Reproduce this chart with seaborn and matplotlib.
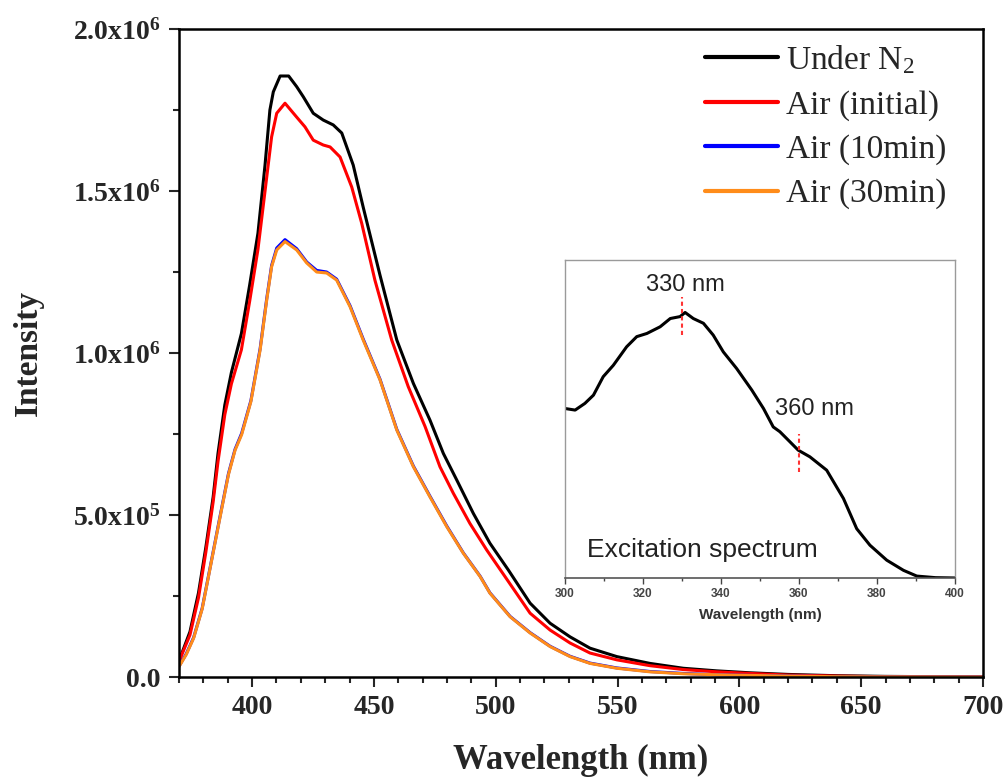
import numpy as np
import pandas as pd
import matplotlib.pyplot as plt
import seaborn as sns
from matplotlib.ticker import MultipleLocator, FuncFormatter

# ── Data (intensity in units of 1e6) ───────────────────────────────────────
wl_n2 = [370, 374.5, 378, 381, 384, 386, 388.8, 391.5, 395.6, 399, 402.4, 405.3, 407.3,
         408.7, 411.5, 415, 418.3, 421, 425.1, 429.2, 433.3, 436.8, 441.5, 445.6, 452.5,
         459.4, 466.2, 473, 478.5, 484, 490.8, 497.6, 505.2, 514.1, 522.3, 530.5, 538.7,
         549.7, 563.3, 577, 590.7, 604.4, 620, 640, 660, 700]
int_n2 = [0.05, 0.14, 0.26, 0.40, 0.555, 0.69, 0.84, 0.94, 1.06, 1.21, 1.37, 1.58, 1.75,
          1.806, 1.855, 1.855, 1.822, 1.791, 1.74, 1.719, 1.704, 1.679, 1.58, 1.45, 1.24,
          1.04, 0.906, 0.793, 0.69, 0.608, 0.505, 0.413, 0.33, 0.228, 0.166, 0.124, 0.089,
          0.063, 0.042, 0.027, 0.019, 0.013, 0.008, 0.004, 0.002, 0.0]

wl_air0 = [370, 374.5, 378, 381, 384, 386, 388.8, 391.5, 395.6, 399, 402.4, 406, 408,
           410.1, 413.5, 418.3, 421.7, 425.1, 429.2, 432, 436.1, 440.9, 445, 450.4, 457.3,
           464.1, 471, 477.1, 482.6, 489.4, 496.3, 503.8, 514.1, 522.3, 530.5, 538.7, 549.7,
           563.3, 577, 590.7, 604.4, 620, 640, 660, 700]
int_air0 = [0.048, 0.13, 0.245, 0.385, 0.54, 0.665, 0.81, 0.905, 1.01, 1.16, 1.32, 1.543, 1.667,
            1.74, 1.771, 1.728, 1.698, 1.657, 1.642, 1.636, 1.605, 1.512, 1.40, 1.225, 1.04,
            0.896, 0.773, 0.649, 0.567, 0.474, 0.392, 0.31, 0.197, 0.145, 0.105, 0.074, 0.053,
            0.035, 0.023, 0.016, 0.011, 0.006, 0.003, 0.001, 0.0]

wl_air10 = [370, 373, 376, 379.5, 383, 386.5, 390.3, 393, 395.7, 399.5, 403.3, 406, 408,
            410.1, 413.5, 418.3, 422.4, 426.5, 430.6, 434.7, 440.2, 445.6, 452.5, 459.4,
            466.2, 473, 479.9, 486.7, 493.6, 497.6, 505.9, 514.1, 522.3, 530.5, 538.7, 549.7,
            563.3, 577, 590.7, 604.4, 620, 640, 660, 700]
int_air10 = [0.033, 0.072, 0.122, 0.212, 0.347, 0.483, 0.628, 0.703, 0.752, 0.853, 1.014, 1.168,
             1.270, 1.324, 1.350, 1.322, 1.281, 1.255, 1.250, 1.228, 1.146, 1.043, 0.919, 0.764,
             0.651, 0.558, 0.466, 0.383, 0.311, 0.260, 0.187, 0.137, 0.095, 0.064, 0.043, 0.028,
             0.017, 0.011, 0.007, 0.005, 0.003, 0.001, 0.0005, 0.0]

wl_air30 = [370, 373, 376, 379.5, 383, 386.5, 390.3, 393, 395.7, 399.5, 403.3, 406, 408,
            410.1, 413.5, 418.3, 422.4, 426.5, 430.6, 434.7, 440.2, 445.6, 452.5, 459.4,
            466.2, 473, 479.9, 486.7, 493.6, 497.6, 505.9, 514.1, 522.3, 530.5, 538.7, 549.7,
            563.3, 577, 590.7, 604.4, 620, 640, 660, 700]
int_air30 = [0.032, 0.07, 0.12, 0.21, 0.345, 0.48, 0.625, 0.70, 0.748, 0.85, 1.01, 1.164,
             1.266, 1.318, 1.344, 1.318, 1.278, 1.250, 1.247, 1.225, 1.143, 1.04, 0.917, 0.762,
             0.649, 0.556, 0.464, 0.382, 0.31, 0.259, 0.186, 0.136, 0.094, 0.063, 0.042, 0.027,
             0.016, 0.010, 0.007, 0.005, 0.003, 0.001, 0.0005, 0.0]

series_names = ["Under N$_2$", "Air (initial)", "Air (10min)", "Air (30min)"]
series_colors = ["#000000", "#ff0000", "#0000ff", "#ff8c1a"]

# Excitation spectrum (inset, normalised)
exc_wl = [300, 302.6, 305.1, 307.3, 309.8, 312.4, 315.8, 318.4, 321, 324.4, 327, 329.5, 330.8,
          332.9, 335.5, 338, 340.6, 344, 347.9, 350.9, 353.4, 355.1, 357.7, 359.8, 362.8,
          367.1, 371.4, 374.8, 378.2, 382.5, 386.8, 390.2, 395, 400]
exc_int = [0.533, 0.528, 0.549, 0.575, 0.633, 0.669, 0.727, 0.759, 0.769, 0.790, 0.816, 0.822,
           0.835, 0.816, 0.801, 0.764, 0.711, 0.659, 0.591, 0.533, 0.475, 0.460, 0.428, 0.402,
           0.381, 0.339, 0.250, 0.155, 0.103, 0.056, 0.024, 0.006, 0.001, 0.0]
peak_wl = [330, 360]
peak_lo = [0.764, 0.334]
peak_hi = [0.885, 0.454]

# ── Style ──────────────────────────────────────────────────────────────────
sns.set_style("ticks")
plt.rcParams["font.family"] = ["Liberation Serif", "DejaVu Serif"]
plt.rcParams["mathtext.fontset"] = "custom"
plt.rcParams["mathtext.rm"] = "Liberation Serif"
plt.rcParams["mathtext.it"] = "Liberation Serif:italic"
plt.rcParams["mathtext.bf"] = "Liberation Serif:bold"

frames = []
for name, wl, inten in zip(series_names,
                           [wl_n2, wl_air0, wl_air10, wl_air30],
                           [int_n2, int_air0, int_air10, int_air30]):
    frames.append(pd.DataFrame({"wl": wl, "I": np.array(inten) * 1e6, "series": name}))
df = pd.concat(frames, ignore_index=True)

fig = plt.figure(figsize=(10.08, 7.78), dpi=100)
ax = fig.add_axes([0.1776, 0.1298, 0.7976, 0.8329])

sns.lineplot(data=df, x="wl", y="I", hue="series", hue_order=series_names,
             palette=dict(zip(series_names, series_colors)), estimator=None,
             sort=True, linewidth=2.2, ax=ax, legend=False)

ax.set_xlim(370, 700)
ax.set_ylim(0, 2.0e6)
ax.xaxis.set_major_locator(MultipleLocator(50))
ax.xaxis.set_minor_locator(MultipleLocator(10))
ax.yaxis.set_major_locator(MultipleLocator(0.5e6))
ax.yaxis.set_minor_locator(MultipleLocator(0.25e6))


def sci_fmt(v, pos):
    if v <= 0:
        return "0.0" if abs(v) < 1 else ""
    exp = int(np.floor(np.log10(v)))
    return f"{v / 10**exp:.1f}x10$^{{\\mathbf{{{exp}}}}}$"


ax.yaxis.set_major_formatter(FuncFormatter(sci_fmt))
for s in ax.spines.values():
    s.set_linewidth(1.8)
    s.set_color("black")
ax.tick_params(axis="both", which="major", direction="out", length=7, width=1.5,
               labelsize=20, pad=6, top=False, right=False)
ax.tick_params(axis="both", which="minor", direction="out", length=4, width=1.5,
               top=False, right=False)
for lab in ax.get_xticklabels() + ax.get_yticklabels():
    lab.set_fontweight("bold")
ax.set_xlabel("Wavelength (nm)", fontsize=25, fontweight="bold", labelpad=17)
ax.set_ylabel("Intensity", fontsize=24, fontweight="bold", labelpad=21)

leg = ax.legend(handles=ax.lines[:4], labels=series_names, loc="upper left",
                bbox_to_anchor=(0.654, 0.978), frameon=False, fontsize=24,
                handlelength=2.2, handletextpad=0.25, labelspacing=0.41,
                borderpad=0, borderaxespad=0)
for h in leg.get_lines():
    h.set_linewidth(3)

# ── Inset: excitation spectrum ─────────────────────────────────────────────
axin = fig.add_axes([0.5605, 0.2571, 0.3869, 0.4087])
axin.set_facecolor("white")
sns.lineplot(x=exc_wl, y=exc_int, color="black", linewidth=2.2, ax=axin)
for wl, lo, hi in zip(peak_wl, peak_lo, peak_hi):
    axin.plot([wl, wl], [lo, hi], color="#ff3333", linestyle=(0, (2, 1.5)), linewidth=1.5)
axin.text(330.8, 0.92, "330 nm", ha="center", va="center", fontsize=17,
          family=["Liberation Sans", "DejaVu Sans"], color="#222222")
axin.text(364, 0.53, "360 nm", ha="center", va="center", fontsize=17,
          family=["Liberation Sans", "DejaVu Sans"], color="#222222")
axin.text(305.6, 0.087, "Excitation spectrum", ha="left", va="center", fontsize=19,
          family=["Liberation Sans", "DejaVu Sans"], color="#222222")
axin.set_xlim(300, 400)
axin.set_ylim(0, 1)
axin.xaxis.set_major_locator(MultipleLocator(20))
axin.xaxis.set_minor_locator(MultipleLocator(10))
axin.set_yticks([])
axin.tick_params(axis="x", which="major", direction="out", length=4, width=1,
                 labelsize=8.5, pad=3, colors="#444444")
axin.tick_params(axis="x", which="minor", direction="out", length=2.5, width=1,
                 colors="#444444")
for lab in axin.get_xticklabels():
    lab.set_fontweight("bold")
    lab.set_family(["Liberation Sans", "DejaVu Sans"])
axin.set_xlabel("Wavelength (nm)", fontsize=11, fontweight="bold",
                family=["Liberation Sans", "DejaVu Sans"], color="#333333", labelpad=6)
axin.set_ylabel("")
for side in ["left", "top", "right"]:
    axin.spines[side].set_color("#9a9a9a")
    axin.spines[side].set_linewidth(1)
axin.spines["bottom"].set_color("#555555")
axin.spines["bottom"].set_linewidth(1.2)

fig.savefig("out.png", dpi=100)
